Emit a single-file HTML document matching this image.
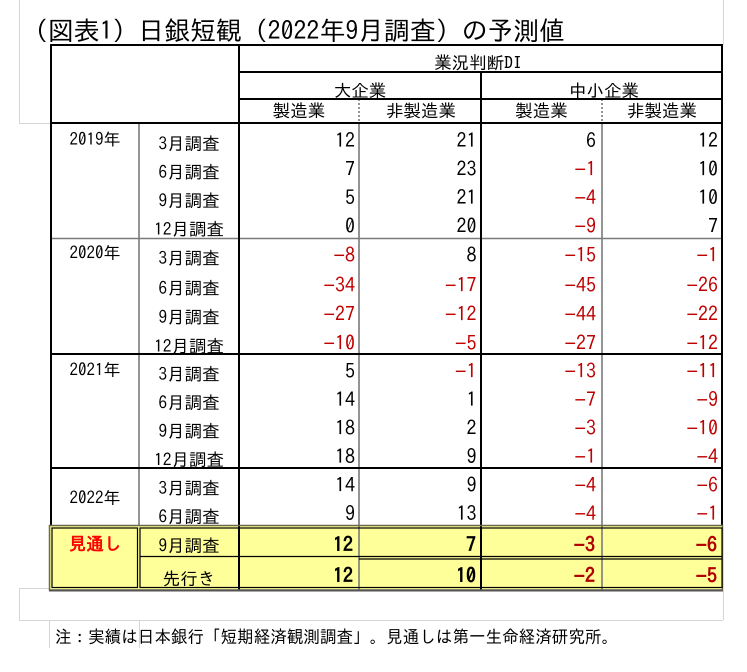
<!DOCTYPE html>
<html><head><meta charset="utf-8"><style>
html,body{margin:0;padding:0;background:#fff;}
svg{display:block;}
text{font-family:"IPAGothic","Noto Sans CJK JP",sans-serif;fill:#000;}
.t{font-size:26px;}
.h{font-size:17.5px;text-anchor:middle;}
.lb{font-size:17.5px;text-anchor:middle;}
.yr{font-size:17px;text-anchor:middle;}
.n{font-size:20px;text-anchor:end;}
.b{font-weight:bold;}
.r{fill:#c00000;}
.m{font-family:"Liberation Sans",sans-serif;}
.ft{font-size:17.5px;}
</style></head><body>
<svg width="747" height="672" viewBox="0 0 747 672" xmlns="http://www.w3.org/2000/svg">
<rect width="747" height="672" fill="#fff"/>
<!-- light spreadsheet gridlines -->
<g stroke="#d6d6d6" stroke-width="1">
<line x1="19.5" y1="0" x2="19.5" y2="123"/>
<line x1="19" y1="123.5" x2="51" y2="123.5"/>
<line x1="723.5" y1="0" x2="723.5" y2="45"/>
<line x1="19.5" y1="588" x2="19.5" y2="620"/>
<line x1="19" y1="588.5" x2="49" y2="588.5"/>
<line x1="19" y1="620.5" x2="723" y2="620.5"/>
<line x1="723.5" y1="591" x2="723.5" y2="620"/>
<line x1="49.5" y1="620" x2="49.5" y2="648"/>
<line x1="139.5" y1="620" x2="139.5" y2="648"/>
</g>
<!-- title -->
<text class="t" x="22" y="40" textLength="543" lengthAdjust="spacingAndGlyphs">（図表1）日銀短観（2022年9月調査）の予測値</text>
<!-- yellow box -->
<rect x="49" y="525" width="674" height="66" fill="#ffff99"/>
<!-- gray lines -->
<g stroke="#7a7a7a" stroke-width="1.6">
<line x1="139" y1="123" x2="139" y2="525"/>
<line x1="359" y1="123" x2="359" y2="591"/>
<line x1="602" y1="123" x2="602" y2="591"/>
<line x1="51" y1="238.5" x2="722" y2="238.5"/>
</g>
<g stroke="#7a7a7a" stroke-width="1.6" stroke-dasharray="2,2">
<line x1="359" y1="99" x2="359" y2="123"/>
<line x1="602" y1="99" x2="602" y2="123"/>
</g>
<!-- black lines -->
<g stroke="#000" stroke-width="2">
<line x1="50" y1="45" x2="723" y2="45"/>
<line x1="51" y1="45" x2="51" y2="525"/>
<line x1="722" y1="45" x2="722" y2="525"/>
<line x1="239" y1="45" x2="239" y2="591"/>
<line x1="481" y1="72" x2="481" y2="591"/>
<line x1="239" y1="72" x2="722" y2="72"/>
<line x1="239" y1="99" x2="722" y2="99"/>
<line x1="51" y1="123" x2="722" y2="123"/>
<line x1="51" y1="354" x2="722" y2="354"/>
<line x1="51" y1="468" x2="722" y2="468"/>
</g>
<!-- yellow box borders -->
<rect x="49.5" y="525.5" width="673" height="64.5" fill="none" stroke="#6a6a4a" stroke-width="1.5"/>
<line x1="49" y1="590.5" x2="723" y2="590.5" stroke="#555" stroke-width="2"/>
<g stroke="#000" stroke-width="1.2" fill="none">
<rect x="52" y="528" width="85.5" height="59.5"/>
<rect x="140" y="528" width="582" height="59.5"/>
<line x1="140" y1="556.5" x2="722" y2="556.5"/>
<line x1="359" y1="559" x2="722" y2="559"/>
</g>
<!-- headers -->
<text class="h" x="478" y="69">業況判断DI</text>
<text class="h" x="360" y="97">大企業</text>
<text class="h" x="604" y="97">中小企業</text>
<text class="h" x="299" y="117">製造業</text>
<text class="h" x="421" y="117">非製造業</text>
<text class="h" x="541.5" y="117">製造業</text>
<text class="h" x="662" y="117">非製造業</text>
<!-- years -->
<text class="yr" x="95" y="145.5">2019年</text>
<text class="yr" x="95" y="259">2020年</text>
<text class="yr" x="95" y="376">2021年</text>
<text class="yr" x="95" y="504">2022年</text>
<text class="lb b" x="95" y="550" style="fill:#ff0000">見通し</text>
<!-- month labels -->
<text class="lb" x="189" y="150">3月調査</text>
<text class="lb" x="189" y="178.5">6月調査</text>
<text class="lb" x="189" y="207">9月調査</text>
<text class="lb" x="189" y="235.5">12月調査</text>
<text class="lb" x="189" y="264.5">3月調査</text>
<text class="lb" x="189" y="294.5">6月調査</text>
<text class="lb" x="189" y="323.5">9月調査</text>
<text class="lb" x="189" y="352.5">12月調査</text>
<text class="lb" x="189" y="380.5">3月調査</text>
<text class="lb" x="189" y="409">6月調査</text>
<text class="lb" x="189" y="437.5">9月調査</text>
<text class="lb" x="189" y="466">12月調査</text>
<text class="lb" x="189" y="494.5">3月調査</text>
<text class="lb" x="189" y="523">6月調査</text>
<text class="lb" x="189" y="552">9月調査</text>
<text class="lb" x="189" y="585">先行き</text>
<!-- numbers -->
<g>
<text class="n" x="355" y="147.5">12</text><text class="n" x="476.5" y="147.5">21</text><text class="n" x="596" y="147.5">6</text><text class="n" x="718" y="147.5">12</text>
<text class="n" x="355" y="176">7</text><text class="n" x="476.5" y="176">23</text><text class="n r" x="596" y="176"><tspan class="m">−</tspan>1</text><text class="n" x="718" y="176">10</text>
<text class="n" x="355" y="204.5">5</text><text class="n" x="476.5" y="204.5">21</text><text class="n r" x="596" y="204.5"><tspan class="m">−</tspan>4</text><text class="n" x="718" y="204.5">10</text>
<text class="n" x="355" y="233">0</text><text class="n" x="476.5" y="233">20</text><text class="n r" x="596" y="233"><tspan class="m">−</tspan>9</text><text class="n" x="718" y="233">7</text>

<text class="n r" x="355" y="262"><tspan class="m">−</tspan>8</text><text class="n" x="476.5" y="262">8</text><text class="n r" x="596" y="262"><tspan class="m">−</tspan>15</text><text class="n r" x="718" y="262"><tspan class="m">−</tspan>1</text>
<text class="n r" x="355" y="292"><tspan class="m">−</tspan>34</text><text class="n r" x="476.5" y="292"><tspan class="m">−</tspan>17</text><text class="n r" x="596" y="292"><tspan class="m">−</tspan>45</text><text class="n r" x="718" y="292"><tspan class="m">−</tspan>26</text>
<text class="n r" x="355" y="321"><tspan class="m">−</tspan>27</text><text class="n r" x="476.5" y="321"><tspan class="m">−</tspan>12</text><text class="n r" x="596" y="321"><tspan class="m">−</tspan>44</text><text class="n r" x="718" y="321"><tspan class="m">−</tspan>22</text>
<text class="n r" x="355" y="350"><tspan class="m">−</tspan>10</text><text class="n r" x="476.5" y="350"><tspan class="m">−</tspan>5</text><text class="n r" x="596" y="350"><tspan class="m">−</tspan>27</text><text class="n r" x="718" y="350"><tspan class="m">−</tspan>12</text>

<text class="n" x="355" y="378">5</text><text class="n r" x="476.5" y="378"><tspan class="m">−</tspan>1</text><text class="n r" x="596" y="378"><tspan class="m">−</tspan>13</text><text class="n r" x="718" y="378"><tspan class="m">−</tspan>11</text>
<text class="n" x="355" y="406.5">14</text><text class="n" x="476.5" y="406.5">1</text><text class="n r" x="596" y="406.5"><tspan class="m">−</tspan>7</text><text class="n r" x="718" y="406.5"><tspan class="m">−</tspan>9</text>
<text class="n" x="355" y="435">18</text><text class="n" x="476.5" y="435">2</text><text class="n r" x="596" y="435"><tspan class="m">−</tspan>3</text><text class="n r" x="718" y="435"><tspan class="m">−</tspan>10</text>
<text class="n" x="355" y="463.5">18</text><text class="n" x="476.5" y="463.5">9</text><text class="n r" x="596" y="463.5"><tspan class="m">−</tspan>1</text><text class="n r" x="718" y="463.5"><tspan class="m">−</tspan>4</text>

<text class="n" x="355" y="492">14</text><text class="n" x="476.5" y="492">9</text><text class="n r" x="596" y="492"><tspan class="m">−</tspan>4</text><text class="n r" x="718" y="492"><tspan class="m">−</tspan>6</text>
<text class="n" x="355" y="520.5">9</text><text class="n" x="476.5" y="520.5">13</text><text class="n r" x="596" y="520.5"><tspan class="m">−</tspan>4</text><text class="n r" x="718" y="520.5"><tspan class="m">−</tspan>1</text>

<text class="n b" x="353" y="551.5">12</text><text class="n b" x="476" y="551.5">7</text><text class="n b r" x="595" y="551.5" style="fill:#b00000"><tspan class="m">−</tspan>3</text><text class="n b r" x="717" y="551.5" style="fill:#b00000"><tspan class="m">−</tspan>6</text>
<text class="n b" x="353" y="582.5">12</text><text class="n b" x="476" y="582.5">10</text><text class="n b r" x="595" y="582.5" style="fill:#b00000"><tspan class="m">−</tspan>2</text><text class="n b r" x="717" y="582.5" style="fill:#b00000"><tspan class="m">−</tspan>5</text>
</g>
<!-- footer -->
<text class="ft" x="55" y="643" textLength="563" lengthAdjust="spacingAndGlyphs">注：実績は日本銀行「短期経済観測調査」。見通しは第一生命経済研究所。</text>
</svg>
</body></html>
